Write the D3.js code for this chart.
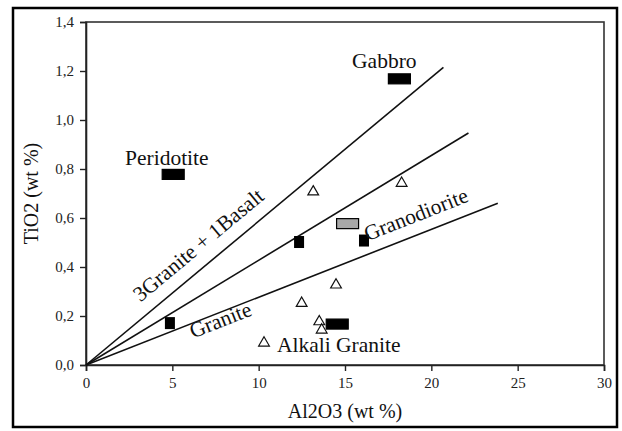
<!DOCTYPE html>
<html>
<head>
<meta charset="utf-8">
<script src="https://cdn.jsdelivr.net/npm/d3@7/dist/d3.min.js"></script>
</head>
<body style="margin:0">
<svg id="chart" width="622" height="431"></svg>
<script>
// Mixing lines from the origin: [Al2O3 end, TiO2 end]
const mixLines = [
  { name: "3Granite + 1Basalt", end: [20.7, 1.215] },
  { name: "Granodiorite line", end: [22.15, 0.947] },
  { name: "Granite line", end: [23.85, 0.66] }
];

// Reference rock compositions (wide bars)
const rockNames = ["Gabbro", "Peridotite", "Alkali Granite", "Granodiorite"];
const rockAl2O3 = [18.15, 5.05, 14.55, 15.15];
const rockTiO2 = [1.168, 0.778, 0.167, 0.577];
const rockFill = ["#000", "#000", "#000", "#a8a8a8"];

// Sample compositions (filled squares)
const sqAl2O3 = [12.34, 16.10, 4.86];
const sqTiO2 = [0.502, 0.508, 0.171];

// Sample compositions (open triangles)
const triAl2O3 = [13.16, 18.28, 14.48, 12.49, 13.51, 13.65, 10.31];
const triTiO2 = [0.707, 0.742, 0.327, 0.252, 0.177, 0.143, 0.090];

// Axis ticks
const xTicks = [0, 5, 10, 15, 20, 25, 30];
const yTicks = [0, 0.2, 0.4, 0.6, 0.8, 1.0, 1.2, 1.4];

// Text labels: anchor in data units; rotated ones follow a mixing line
const flatLabels = [
  { text: "Gabbro", x: 15.41, y: 1.212 },
  { text: "Peridotite", x: 2.26, y: 0.816 },
  { text: "Alkali Granite", x: 11.06, y: 0.053 }
];
const lineLabels = [
  { text: "3Granite + 1Basalt", line: 0, x: 3.15, y: 0.255 },
  { text: "Granodiorite", line: 2, x: 16.3, y: 0.505 },
  { text: "Granite", line: 2, x: 6.2, y: 0.108 }
];

const fontCss = size => `font-family: 'Times New Roman', 'Liberation Serif', Tinos, serif; font-size: ${size}px;`;

const svg = d3.select("#chart");
const plot = { left: 86, right: 604, top: 22, bottom: 365 };

const x = d3.scaleLinear().domain([0, 30]).range([plot.left, plot.right]);
const y = d3.scaleLinear().domain([0, 1.4]).range([plot.bottom, plot.top]);

// Outer frame
svg.append("rect")
  .attr("x", 13).attr("y", 8)
  .attr("width", 604).attr("height", 419)
  .attr("fill", "none").attr("stroke", "#000").attr("stroke-width", 2.5);

// Plot box
svg.append("rect")
  .attr("x", plot.left).attr("y", plot.top)
  .attr("width", plot.right - plot.left).attr("height", plot.bottom - plot.top)
  .attr("fill", "none").attr("stroke", "#333").attr("stroke-width", 1.6);

const fmtY = d => d3.format(".1f")(d).replace(".", ",");

const xAxis = svg.append("g")
  .attr("transform", `translate(0,${plot.bottom})`)
  .call(d3.axisBottom(x).tickValues(xTicks).tickSize(6).tickPadding(6).tickFormat(d3.format("d")));
const yAxis = svg.append("g")
  .attr("transform", `translate(${plot.left},0)`)
  .call(d3.axisLeft(y).tickValues(yTicks).tickSize(6).tickPadding(6).tickFormat(fmtY));

[xAxis, yAxis].forEach(g => {
  g.attr("font-family", null).attr("font-size", null);
  g.select(".domain").attr("stroke", "#222").attr("stroke-width", 1.6);
  g.selectAll(".tick line").attr("stroke", "#222").attr("stroke-width", 1.4);
  g.selectAll(".tick text").attr("style", fontCss(15)).attr("fill", "#222");
});

// Axis titles
svg.append("text")
  .attr("x", (plot.left + plot.right) / 2).attr("y", 418)
  .attr("text-anchor", "middle")
  .attr("style", fontCss(20))
  .attr("fill", "#111")
  .text("Al2O3 (wt %)");
svg.append("text")
  .attr("transform", `translate(38,${(plot.top + plot.bottom) / 2}) rotate(-90)`)
  .attr("text-anchor", "middle")
  .attr("style", fontCss(20))
  .attr("fill", "#111")
  .text("TiO2 (wt %)");

// Mixing lines
svg.append("g").selectAll("line").data(mixLines).join("line")
  .attr("x1", x(0)).attr("y1", y(0))
  .attr("x2", d => x(d.end[0])).attr("y2", d => y(d.end[1]))
  .attr("stroke", "#111").attr("stroke-width", 1.6);

// Rock composition bars
const rW = 22, rH = 10;
svg.append("g").selectAll("rect").data(rockNames).join("rect")
  .attr("x", (d, i) => x(rockAl2O3[i]) - rW / 2)
  .attr("y", (d, i) => y(rockTiO2[i]) - rH / 2)
  .attr("width", rW).attr("height", rH)
  .attr("fill", (d, i) => rockFill[i])
  .attr("stroke", "#000").attr("stroke-width", 1.2);

// Filled squares
const sW = 10, sH = 12;
svg.append("g").selectAll("rect").data(sqAl2O3).join("rect")
  .attr("x", d => x(d) - sW / 2)
  .attr("y", (d, i) => y(sqTiO2[i]) - sH / 2)
  .attr("width", sW).attr("height", sH)
  .attr("fill", "#000");

// Open triangles
const tri = d3.symbol().type(d3.symbolTriangle).size(50);
svg.append("g").selectAll("path").data(triAl2O3).join("path")
  .attr("d", tri)
  .attr("transform", (d, i) => `translate(${x(d)},${y(triTiO2[i])})`)
  .attr("fill", "#fff").attr("stroke", "#111").attr("stroke-width", 1.2);

// Labels
svg.append("g").selectAll("text").data(flatLabels).join("text")
  .attr("x", d => x(d.x)).attr("y", d => y(d.y))
  .attr("style", fontCss(21.5))
  .attr("fill", "#111")
  .text(d => d.text);

svg.append("g").selectAll("text").data(lineLabels).join("text")
  .attr("transform", d => {
    const L = mixLines[d.line];
    const ang = Math.atan2(y(L.end[1]) - y(0), x(L.end[0]) - x(0)) * 180 / Math.PI;
    return `translate(${x(d.x)},${y(d.y)}) rotate(${ang})`;
  })
  .attr("style", fontCss(21.5))
  .attr("fill", "#111")
  .text(d => d.text);
</script>
</body>
</html>
